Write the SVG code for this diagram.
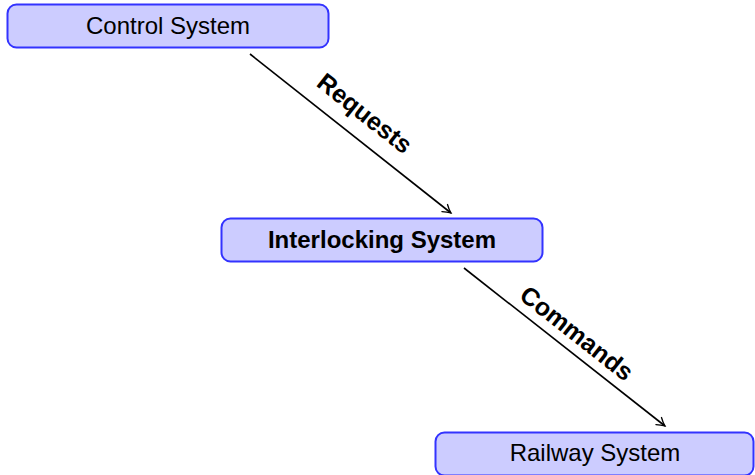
<svg xmlns="http://www.w3.org/2000/svg" width="755" height="475" viewBox="0 0 755 475">
<style>
.box{fill:#ccccff;stroke:#3333ff;stroke-width:2}
.t{font-family:"Liberation Sans",Arial,sans-serif;font-size:24px;fill:#000;text-anchor:middle;dominant-baseline:central}
.b{font-weight:bold}
.l{font-size:25px}
.edge{stroke:#000;stroke-width:1.6;fill:none;marker-end:url(#arr)}
</style>
<defs>
<marker id="arr" viewBox="0 0 12 12" refX="10" refY="6" markerWidth="12" markerHeight="12" markerUnits="userSpaceOnUse" orient="auto">
<path d="M2,1.5 Q6,4.5 10,6 Q6,7.5 2,10.5" fill="none" stroke="#000" stroke-width="1.3" stroke-linecap="round"/>
</marker>
</defs>
<g id="connectors">
<line class="edge" x1="250" y1="54" x2="451" y2="213"/>
<line class="edge" x1="464" y1="268" x2="665" y2="426"/>
<text class="t b l" transform="translate(365,113) rotate(38.3)">Requests</text>
<text class="t b l" transform="translate(577,333) rotate(38.2)">Commands</text>
</g>
<g id="control">
<rect class="box" x="7.5" y="4.5" width="321" height="43" rx="9"/>
<text class="t" x="168" y="25">Control System</text>
</g>
<g id="interlocking">
<rect class="box" x="221.5" y="218.5" width="321" height="43" rx="9"/>
<text class="t b" x="382" y="239">Interlocking System</text>
</g>
<g id="railway">
<rect class="box" x="435.5" y="432.5" width="318" height="43" rx="9"/>
<text class="t" x="595" y="452">Railway System</text>
</g>
</svg>
